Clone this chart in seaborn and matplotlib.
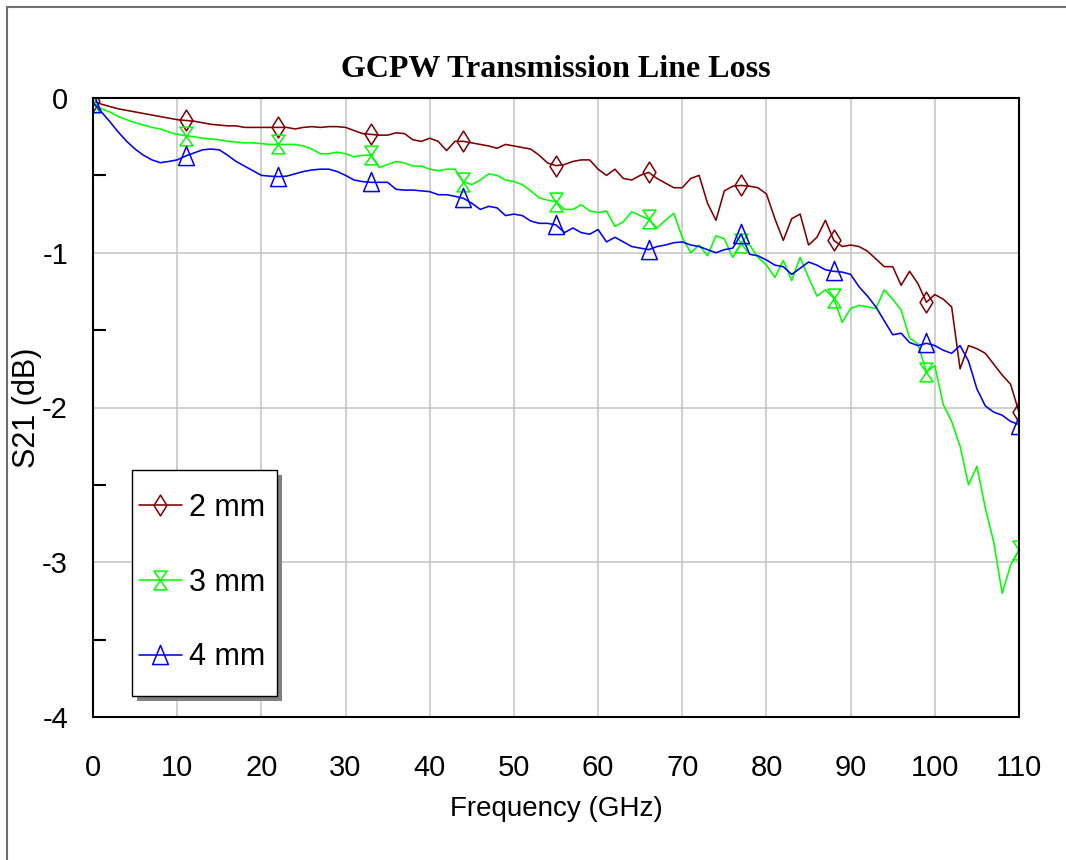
import numpy as np
import pandas as pd
import seaborn as sns
import matplotlib.pyplot as plt
from matplotlib.path import Path
from matplotlib.patches import Rectangle

# frequency grid in GHz, 1 GHz steps
freq = np.arange(0, 111, 1)

# S21 (dB), one value per GHz
s21_2mm = [
    -0.02, -0.04, -0.055, -0.07, -0.08, -0.09, -0.10, -0.11, -0.12, -0.13,
    -0.14, -0.145, -0.15, -0.16, -0.17, -0.175, -0.18, -0.18, -0.19, -0.19,
    -0.19, -0.19, -0.19, -0.19, -0.20, -0.19, -0.185, -0.19, -0.185, -0.185,
    -0.19, -0.21, -0.23, -0.235, -0.24, -0.24, -0.225, -0.23, -0.27, -0.28,
    -0.26, -0.28, -0.34, -0.28, -0.28, -0.29, -0.30, -0.31, -0.325, -0.30,
    -0.31, -0.32, -0.33, -0.37, -0.42, -0.437, -0.43, -0.41, -0.40, -0.40,
    -0.46, -0.50, -0.46, -0.52, -0.53, -0.50, -0.48, -0.52, -0.55, -0.58,
    -0.58, -0.52, -0.50, -0.68, -0.79, -0.60, -0.57, -0.565, -0.57, -0.58,
    -0.62, -0.78, -0.92, -0.78, -0.75, -0.95, -0.90, -0.79, -0.92, -0.96,
    -0.95, -0.96, -0.99, -1.04, -1.09, -1.09, -1.21, -1.12, -1.20, -1.32,
    -1.27, -1.30, -1.35, -1.75, -1.60, -1.62, -1.65, -1.72, -1.79, -1.85,
    -2.03,
]
s21_3mm = [
    -0.03, -0.07, -0.09, -0.12, -0.14, -0.16, -0.175, -0.19, -0.20, -0.22,
    -0.235, -0.243, -0.25, -0.26, -0.265, -0.27, -0.28, -0.285, -0.29, -0.29,
    -0.295, -0.30, -0.30, -0.30, -0.30, -0.31, -0.33, -0.36, -0.36, -0.35,
    -0.36, -0.38, -0.37, -0.37, -0.45, -0.43, -0.41, -0.42, -0.44, -0.44,
    -0.46, -0.47, -0.46, -0.46, -0.54, -0.56, -0.53, -0.49, -0.50, -0.53,
    -0.54, -0.56, -0.60, -0.645, -0.66, -0.67, -0.72, -0.72, -0.69, -0.73,
    -0.74, -0.73, -0.83, -0.80, -0.735, -0.76, -0.784, -0.84, -0.79, -0.745,
    -0.90, -1.00, -0.95, -1.02, -0.89, -0.91, -1.03, -0.94, -0.95, -1.03,
    -1.08, -1.16, -1.05, -1.18, -1.03, -1.16, -1.28, -1.24, -1.294, -1.45,
    -1.36, -1.34, -1.35, -1.36, -1.24, -1.30, -1.37, -1.55, -1.59, -1.77,
    -1.73, -1.98, -2.09, -2.25, -2.50, -2.38, -2.65, -2.87, -3.20, -3.02,
    -2.92,
]
s21_4mm = [
    -0.03, -0.09, -0.153, -0.22, -0.28, -0.33, -0.37, -0.40, -0.418, -0.41,
    -0.40, -0.375, -0.355, -0.335, -0.33, -0.335, -0.37, -0.41, -0.44, -0.47,
    -0.50, -0.505, -0.508, -0.505, -0.49, -0.475, -0.465, -0.46, -0.46, -0.475,
    -0.50, -0.53, -0.54, -0.545, -0.545, -0.545, -0.59, -0.595, -0.595, -0.60,
    -0.605, -0.625, -0.625, -0.635, -0.648, -0.68, -0.72, -0.70, -0.71, -0.76,
    -0.75, -0.76, -0.795, -0.81, -0.81, -0.82, -0.87, -0.84, -0.87, -0.88,
    -0.85, -0.93, -0.90, -0.93, -0.96, -0.97, -0.98, -0.96, -0.95, -0.935,
    -0.93, -0.95, -0.96, -0.98, -1.00, -0.98, -0.97, -0.88, -1.01, -1.02,
    -1.047, -1.08, -1.09, -1.14, -1.10, -1.06, -1.08, -1.11, -1.12, -1.125,
    -1.14, -1.22, -1.28, -1.35, -1.44, -1.53, -1.52, -1.58, -1.60, -1.585,
    -1.60, -1.63, -1.65, -1.60, -1.70, -1.88, -1.99, -2.03, -2.05, -2.09,
    -2.11,
]

labels = ["2 mm", "3 mm", "4 mm"]
colors = ["#800000", "#00ff00", "#0000ff"]

# open marker shapes (diamond, hourglass, triangle)
MV, LT, CL = Path.MOVETO, Path.LINETO, Path.CLOSEPOLY
diamond = Path([(0, 1), (0.62, 0), (0, -1), (-0.62, 0), (0, 1)], [MV, LT, LT, LT, CL])
hourglass = Path([(-0.7, 1), (0.7, 1), (-0.7, -1), (0.7, -1), (-0.7, 1)], [MV, LT, LT, LT, CL])
triangle = Path([(0, 1), (0.78, -0.9), (-0.78, -0.9), (0, 1)], [MV, LT, LT, CL])
markers = [diamond, hourglass, triangle]
msizes = [15, 13.5, 14.5]

sns.set_style("white")
plt.rcParams["font.family"] = ["Liberation Sans", "DejaVu Sans"]
plt.rcParams["axes.unicode_minus"] = False
for k in ["text.color", "axes.labelcolor", "xtick.color", "ytick.color"]:
    plt.rcParams[k] = "black"

W, H = 1066, 860
fig = plt.figure(figsize=(W / 100, H / 100), dpi=100)
ax = fig.add_axes([93 / W, 1 - 717 / H, 926 / W, 619 / H])

for vals, lab, col, mk, ms in zip([s21_2mm, s21_3mm, s21_4mm], labels, colors, markers, msizes):
    df = pd.DataFrame({"freq": freq, "s21": vals})
    sns.lineplot(data=df, x="freq", y="s21", ax=ax, color=col, lw=1.15,
                 marker=mk, markevery=11, markersize=ms,
                 markerfacecolor="none", markeredgecolor=col, markeredgewidth=1.1,
                 errorbar=None, label=lab)

ax.set_xlim(0, 110)
ax.set_ylim(-4, 0)
ax.set_xticks(np.arange(0, 111, 10))
ax.set_yticks([0, -1, -2, -3, -4])
ax.set_yticks([-0.5, -1.5, -2.5, -3.5], minor=True)
ax.grid(True, which="major", color="#c8c8c8", lw=1.2)
ax.tick_params(axis="both", which="major", length=0, labelsize=21)
ax.tick_params(axis="x", which="major", pad=27)
ax.tick_params(axis="y", which="major", pad=18)
ax.tick_params(axis="y", which="minor", direction="in", length=9, width=1.5, color="black", left=True)
for sp in ax.spines.values():
    sp.set_color("black")
    sp.set_linewidth(1.5)

ax.set_xlabel("Frequency (GHz)", fontsize=20, labelpad=10)
ax.set_ylabel("S21 (dB)", fontsize=22, labelpad=0)
ax.set_title("GCPW Transmission Line Loss", fontsize=23, fontweight="bold",
             family=["Liberation Serif", "DejaVu Serif"], pad=15)

# legend box drawn by hand so the padding matches (box + offset grey shadow)
bx0, by0, bx1, by1 = 131.7, 470, 277, 696
to_ax = lambda px, py: ((px - 93) / 926, (717 - py) / 619)
sx, sy = to_ax(bx0 + 5, by1 + 5)
ax.add_patch(Rectangle((sx, sy), (bx1 - bx0) / 926, (by1 - by0) / 619, transform=ax.transAxes,
                       facecolor="#808080", edgecolor="none", zorder=4))
fx, fy = to_ax(bx0, by1)
ax.add_patch(Rectangle((fx, fy), (bx1 - bx0) / 926, (by1 - by0) / 619, transform=ax.transAxes,
                       facecolor="white", edgecolor="black", lw=1.0, zorder=4.1))

leg = ax.legend(loc="upper left", bbox_to_anchor=to_ax(139, 493), borderaxespad=0,
                borderpad=0, fontsize=22, frameon=False, labelspacing=1.46,
                handlelength=1.4, handletextpad=0.25)
leg.set_zorder(5)

# outer chart frame
fig.patches.append(Rectangle((7 / W, -0.1), 2, 1.1 - 7 / H, fill=False,
                             edgecolor="#707070", lw=1.5, transform=fig.transFigure))

fig.savefig("out.png", dpi=100)
